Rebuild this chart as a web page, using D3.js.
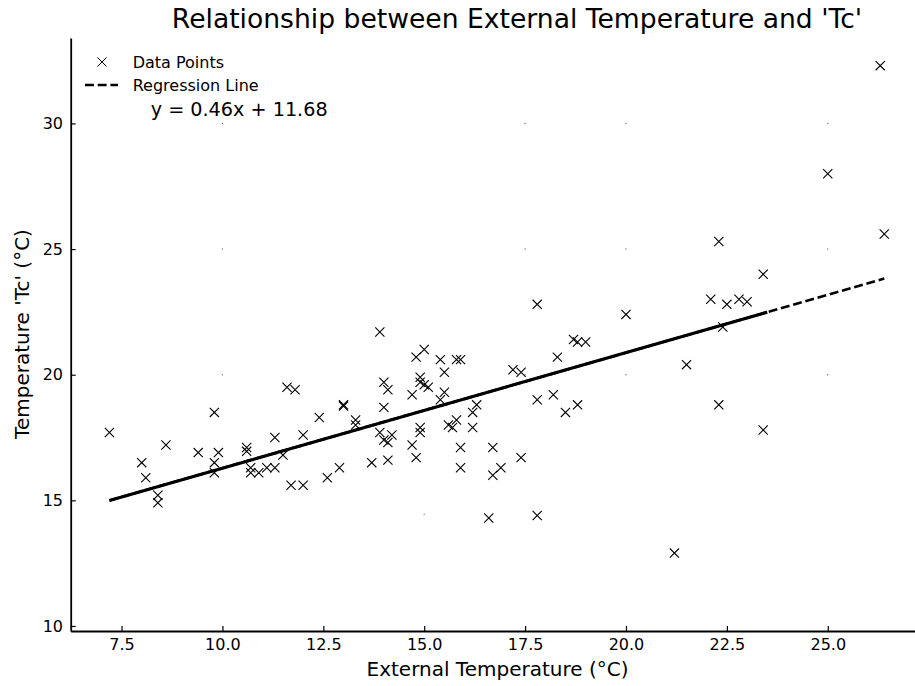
<!DOCTYPE html>
<html>
<head>
<meta charset="utf-8">
<script src="https://cdn.jsdelivr.net/npm/d3@7"></script>
<style>
  html, body { margin: 0; padding: 0; background: #fff; }
  svg { display: block; font-family: "DejaVu Sans", sans-serif; }
</style>
</head>
<body>
<svg id="chart" width="915" height="686"></svg>
<script>
// ---- data ----
const externalTemp = [7.2, 8.0, 8.1, 8.6, 8.4, 8.4, 9.8, 9.4, 9.9, 9.8,
  9.8, 10.6, 10.6, 10.7, 10.7, 10.9, 11.1, 11.3, 11.3, 11.5,
  11.7, 12.0, 12.0, 12.4, 11.6, 11.8, 12.6, 12.9, 13.0, 13.0,
  13.3, 13.3, 13.7, 13.9, 14.0, 14.1, 14.0, 13.9, 14.0, 14.2,
  14.1, 14.1, 14.7, 14.8, 15.0, 14.9, 14.9, 15.0, 15.1, 14.7,
  14.8, 14.9, 14.9, 15.4, 15.8, 15.9, 15.5, 15.5, 15.4, 15.6,
  15.7, 15.8, 15.9, 15.9, 16.2, 16.2, 16.3, 16.7, 16.7, 16.9,
  17.4, 16.6, 17.8, 17.2, 17.4, 17.8, 17.8, 18.2, 18.5, 18.8,
  18.3, 18.7, 18.8, 19.0, 20.0, 21.5, 21.2, 22.1, 22.5, 22.8,
  23.0, 22.4, 22.3, 22.3, 23.4, 23.4, 25.0, 26.3, 26.4];
const tempTc = [17.7, 16.5, 15.9, 17.2, 15.2, 14.9, 18.5, 16.9, 16.9, 16.5,
  16.1, 17.1, 16.95, 16.3, 16.1, 16.1, 16.3, 16.3, 17.5, 16.8,
  15.6, 15.6, 17.6, 18.3, 19.5, 19.4, 15.9, 16.3, 18.8, 18.75,
  18.2, 18.0, 16.5, 21.7, 19.7, 19.4, 18.7, 17.7, 17.4, 17.6,
  17.3, 16.6, 19.2, 20.7, 21.0, 19.9, 19.7, 19.6, 19.5, 17.2,
  16.7, 17.9, 17.7, 20.6, 20.6, 20.6, 20.1, 19.3, 19.0, 18.0,
  17.9, 18.2, 17.1, 16.3, 17.9, 18.5, 18.8, 17.1, 16.0, 16.3,
  16.7, 14.3, 14.4, 20.2, 20.1, 22.8, 19.0, 19.2, 18.5, 18.8,
  20.7, 21.4, 21.3, 21.3, 22.4, 20.4, 12.9, 23.0, 22.8, 23.0,
  22.9, 21.9, 25.3, 18.8, 24.0, 17.8, 28.0, 32.3, 25.6];

const slope = 0.46;
const intercept = 11.68;
const solidRange = [7.2, 23.5];
const dashedRange = [7.2, 26.4];

const xTicks = [7.5, 10.0, 12.5, 15.0, 17.5, 20.0, 22.5, 25.0];
const yTicks = [10, 15, 20, 25, 30];

// faint dot artifacts visible in the reference
const dotX = [10, 17.5, 20, 25];
const dotY = [20, 25, 30];
const extraDot = [[15, 14.45]];

const titleText = "Relationship between External Temperature and 'Tc'";
const xLabel = "External Temperature (°C)";
const yLabel = "Temperature 'Tc' (°C)";
const legendLabels = ["Data Points", "Regression Line"];
const equationText = `y = ${slope.toFixed(2)}x + ${intercept.toFixed(2)}`;

// ---- layout ----
const svg = d3.select("#chart");
const mLeft = 70.7, mRight = 923, mTop = 38, mBottom = 631;

svg.append("rect").attr("width", 915).attr("height", 686).attr("fill", "#fff");

const x = d3.scaleLinear().domain([6.24, 27.36]).range([mLeft, mRight]);
const y = d3.scaleLinear().domain([9.8, 33.4]).range([mBottom, mTop]);

// dot artifacts
const dots = [];
dotX.forEach(dx => dotY.forEach(dy => dots.push([dx, dy])));
extraDot.forEach(d => dots.push(d));
svg.append("g").selectAll("circle").data(dots).join("circle")
  .attr("cx", d => x(d[0])).attr("cy", d => y(d[1]))
  .attr("r", 0.7).attr("fill", "#777");

// axes
const xAxis = d3.axisBottom(x).tickValues(xTicks).tickFormat(d3.format(".1f"))
  .tickSizeInner(-5).tickSizeOuter(0).tickPadding(8);
const gx = svg.append("g").attr("transform", `translate(0,${mBottom})`).call(xAxis);
gx.select(".domain").attr("stroke", "#000").attr("stroke-width", 1.8);
gx.selectAll(".tick line").attr("stroke", "#000").attr("stroke-width", 1.2);
gx.selectAll(".tick text").attr("font-size", 16).attr("fill", "#000")
  .attr("font-family", "DejaVu Sans");

const yAxis = d3.axisLeft(y).tickValues(yTicks).tickFormat(d3.format("d"))
  .tickSizeInner(-5).tickSizeOuter(0).tickPadding(7.7);
const gy = svg.append("g").attr("transform", `translate(${mLeft},0)`).call(yAxis);
gy.select(".domain").attr("stroke", "#000").attr("stroke-width", 1.8);
gy.selectAll(".tick line").attr("stroke", "#000").attr("stroke-width", 1.2);
gy.selectAll(".tick text").attr("font-size", 16).attr("fill", "#000")
  .attr("font-family", "DejaVu Sans");

// regression lines
const line = d3.line().x(d => x(d)).y(d => y(slope * d + intercept));
svg.append("path").attr("d", line(solidRange))
  .attr("fill", "none").attr("stroke", "#000").attr("stroke-width", 3.2);
svg.append("path").attr("d", line(dashedRange))
  .attr("fill", "none").attr("stroke", "#000").attr("stroke-width", 2.6)
  .attr("stroke-dasharray", "8.9,3.8");

// data markers
const xMark = "M-4.6,-4.6L4.6,4.6M-4.6,4.6L4.6,-4.6";
svg.append("g").selectAll("path").data(externalTemp.map((v, i) => [v, tempTc[i]]))
  .join("path")
  .attr("d", xMark)
  .attr("transform", d => `translate(${x(d[0])},${y(d[1])})`)
  .attr("fill", "none").attr("stroke", "#000").attr("stroke-width", 1.1);

// title & labels
svg.append("text").attr("x", 517).attr("y", 28).attr("text-anchor", "middle")
  .attr("font-size", 26.6).attr("fill", "#000").text(titleText);
svg.append("text").attr("x", 497.5).attr("y", 676).attr("text-anchor", "middle")
  .attr("font-size", 20).attr("fill", "#000").text(xLabel);
svg.append("text").attr("transform", `translate(29,334) rotate(-90)`)
  .attr("text-anchor", "middle").attr("font-size", 20).attr("fill", "#000").text(yLabel);

// legend
const lg = svg.append("g");
lg.append("path").attr("d", xMark).attr("transform", "translate(102,62)")
  .attr("fill", "none").attr("stroke", "#000").attr("stroke-width", 1);
lg.append("line").attr("x1", 85).attr("x2", 118).attr("y1", 85).attr("y2", 85)
  .attr("stroke", "#000").attr("stroke-width", 2.6).attr("stroke-dasharray", "8.9,3.8");
lg.selectAll("text").data(legendLabels).join("text")
  .attr("x", 132.7).attr("y", (d, i) => 68 + i * 23)
  .attr("font-size", 16).attr("fill", "#000").text(d => d);

svg.append("text").attr("x", 150.7).attr("y", 116)
  .attr("font-size", 19.2).attr("fill", "#000").text(equationText);
</script>
</body>
</html>
